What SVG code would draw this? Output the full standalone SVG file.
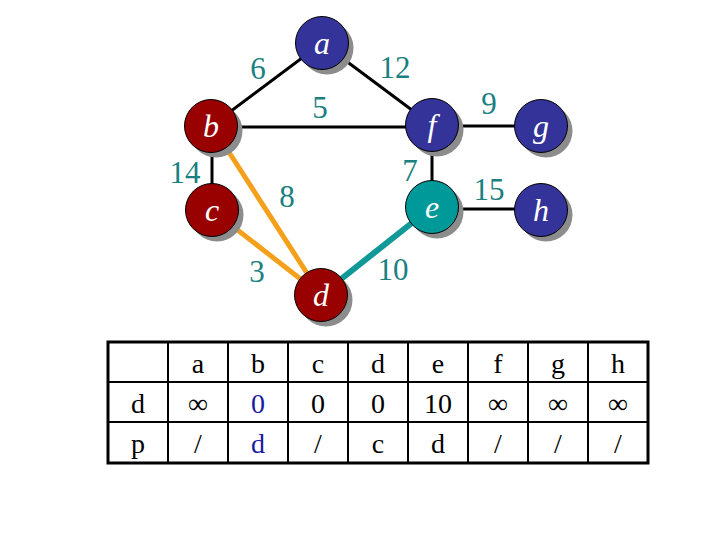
<svg xmlns="http://www.w3.org/2000/svg" width="720" height="540" viewBox="0 0 720 540">
<style>
.edge{stroke:#000;stroke-width:3;fill:none}
.or{stroke:#f5a01a;stroke-width:5;fill:none}
.tl{stroke:#119999;stroke-width:6;fill:none}
.wl{font-family:"Liberation Serif","Times New Roman",serif;font-size:31px;fill:#1a8080;text-anchor:middle}
.sh{fill:#8c8c8c}
.nl{font-family:"Liberation Serif","Times New Roman",serif;font-size:32px;font-style:italic;fill:#fff;text-anchor:middle}
.bl{fill:#333399;stroke:#000;stroke-width:1}
.rd{fill:#990000;stroke:#000;stroke-width:1}
.te{fill:#009999;stroke:#000;stroke-width:1}
.tt{font-family:"Liberation Serif","Times New Roman",serif;font-size:28px;fill:#000;text-anchor:middle}
.tb{fill:#1a1aa0}
.grid{stroke:#000;stroke-width:2;fill:none}
</style>
<g id="connectors">
<line class="edge" x1="322" y1="43" x2="211" y2="126"/>
<line class="edge" x1="322" y1="43" x2="432" y2="125"/>
<line class="edge" x1="211" y1="127" x2="432" y2="127"/>
<line class="edge" x1="212" y1="126" x2="212" y2="210"/>
<line class="edge" x1="432" y1="125" x2="432" y2="207"/>
<line class="edge" x1="432" y1="126" x2="541" y2="126"/>
<line class="edge" x1="432" y1="209" x2="541" y2="209"/>
<line class="or" x1="225" y1="146" x2="321" y2="295"/>
<line class="or" x1="212" y1="210" x2="321" y2="295"/>
<line class="tl" x1="432" y1="207" x2="321" y2="295"/>
<text class="wl" x="258" y="79">6</text>
<text class="wl" x="395" y="78">12</text>
<text class="wl" x="320" y="118">5</text>
<text class="wl" x="185" y="183">14</text>
<text class="wl" x="287" y="207">8</text>
<text class="wl" x="410" y="181">7</text>
<text class="wl" x="489" y="114">9</text>
<text class="wl" x="489" y="200">15</text>
<text class="wl" x="257" y="282">3</text>
<text class="wl" x="393" y="280">10</text>
</g>
<g id="node-a"><circle class="sh" cx="327" cy="48" r="26.5"/><circle class="bl" cx="322" cy="43" r="26.5"/><text class="nl" x="322" y="54">a</text></g>
<g id="node-b"><circle class="sh" cx="216" cy="131" r="26.5"/><circle class="rd" cx="211" cy="126" r="26.5"/><text class="nl" x="211" y="137">b</text></g>
<g id="node-f"><circle class="sh" cx="437" cy="130" r="26.5"/><circle class="bl" cx="432" cy="125" r="26.5"/><text class="nl" x="432" y="136">f</text></g>
<g id="node-g"><circle class="sh" cx="546" cy="131" r="26.5"/><circle class="bl" cx="541" cy="126" r="26.5"/><text class="nl" x="541" y="137">g</text></g>
<g id="node-c"><circle class="sh" cx="217" cy="215" r="26.5"/><circle class="rd" cx="212" cy="210" r="26.5"/><text class="nl" x="212" y="221">c</text></g>
<g id="node-e"><circle class="sh" cx="437" cy="212" r="26.5"/><circle class="te" cx="432" cy="207" r="26.5"/><text class="nl" x="432" y="218">e</text></g>
<g id="node-h"><circle class="sh" cx="546" cy="215" r="26.5"/><circle class="bl" cx="541" cy="210" r="26.5"/><text class="nl" x="541" y="221">h</text></g>
<g id="node-d"><circle class="sh" cx="326" cy="300" r="26.5"/><circle class="rd" cx="321" cy="295" r="26.5"/><text class="nl" x="321" y="306">d</text></g>
<g id="table">
<rect x="108" y="342" width="540" height="121" fill="#fff" stroke="#000" stroke-width="3"/>
<line class="grid" x1="108" y1="382" x2="648" y2="382"/>
<line class="grid" x1="108" y1="422" x2="648" y2="422"/>
<line class="grid" x1="168" y1="342" x2="168" y2="463"/>
<line class="grid" x1="228" y1="342" x2="228" y2="463"/>
<line class="grid" x1="288" y1="342" x2="288" y2="463"/>
<line class="grid" x1="348" y1="342" x2="348" y2="463"/>
<line class="grid" x1="408" y1="342" x2="408" y2="463"/>
<line class="grid" x1="468" y1="342" x2="468" y2="463"/>
<line class="grid" x1="528" y1="342" x2="528" y2="463"/>
<line class="grid" x1="588" y1="342" x2="588" y2="463"/>
<text class="tt" x="198" y="373">a</text>
<text class="tt" x="258" y="373">b</text>
<text class="tt" x="318" y="373">c</text>
<text class="tt" x="378" y="373">d</text>
<text class="tt" x="438" y="373">e</text>
<text class="tt" x="498" y="373">f</text>
<text class="tt" x="558" y="373">g</text>
<text class="tt" x="618" y="373">h</text>
<text class="tt" x="138" y="413">d</text>
<text class="tt" x="198" y="413">∞</text>
<text class="tt tb" x="258" y="413">0</text>
<text class="tt" x="318" y="413">0</text>
<text class="tt" x="378" y="413">0</text>
<text class="tt" x="438" y="413">10</text>
<text class="tt" x="498" y="413">∞</text>
<text class="tt" x="558" y="413">∞</text>
<text class="tt" x="618" y="413">∞</text>
<text class="tt" x="138" y="453">p</text>
<text class="tt" x="198" y="453">/</text>
<text class="tt tb" x="258" y="453">d</text>
<text class="tt" x="318" y="453">/</text>
<text class="tt" x="378" y="453">c</text>
<text class="tt" x="438" y="453">d</text>
<text class="tt" x="498" y="453">/</text>
<text class="tt" x="558" y="453">/</text>
<text class="tt" x="618" y="453">/</text>
</g>
</svg>
